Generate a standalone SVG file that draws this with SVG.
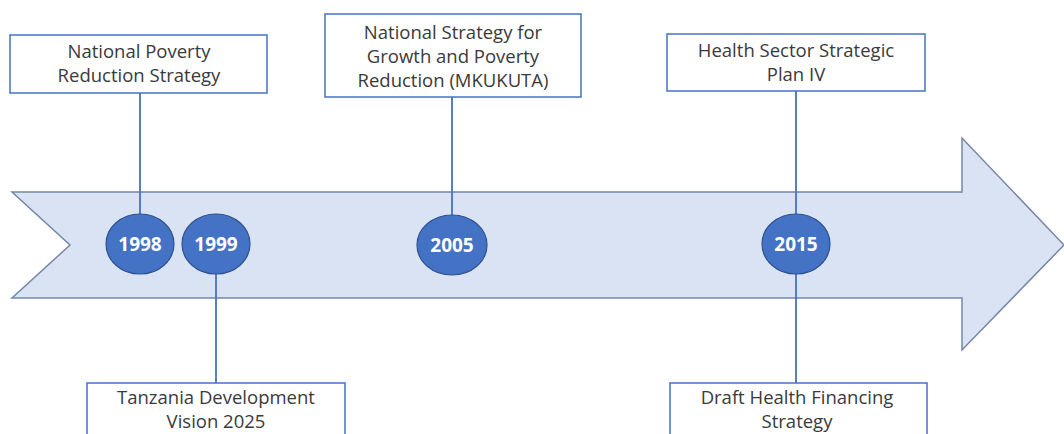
<svg xmlns="http://www.w3.org/2000/svg" width="1064" height="434" viewBox="0 0 1064 434">
<style>
.box{fill:#ffffff;stroke:#4472C4;stroke-width:1.5}
.lbl{font-family:"Open Sans","Liberation Sans",sans-serif;font-size:18.5px;fill:#3a3a3a;text-anchor:middle}
.yr{font-family:"Open Sans","Liberation Sans",sans-serif;font-size:19px;font-weight:bold;fill:#ffffff;text-anchor:middle}
.dot{fill:#4472C4;stroke:#2F528F;stroke-width:1.2}
.con{stroke:#4472C4;stroke-width:1.8;fill:none}
</style>
<rect width="1064" height="434" fill="#ffffff"/>
<g id="arrow">
<polygon points="12,192 962,192 962,138 1064,245 962,350 962,298 12,298 70,245" fill="#DAE3F3" stroke="#7586A8" stroke-width="1.5"/>
</g>
<g id="connectors">
<line class="con" x1="140" y1="93" x2="140" y2="214"/>
<line class="con" x1="216" y1="274" x2="216" y2="383"/>
<line class="con" x1="452" y1="97" x2="452" y2="215"/>
<line class="con" x1="796" y1="91" x2="796" y2="214"/>
<line class="con" x1="796" y1="274" x2="796" y2="383"/>
</g>
<g id="box-npr">
<rect class="box" x="10" y="35" width="257" height="58"/>
<text class="lbl" x="139" y="58">National Poverty</text>
<text class="lbl" x="139" y="82">Reduction Strategy</text>
</g>
<g id="box-mkukuta">
<rect class="box" x="325" y="14" width="256" height="83"/>
<text class="lbl" x="453" y="39">National Strategy for</text>
<text class="lbl" x="453" y="63">Growth and Poverty</text>
<text class="lbl" x="453" y="87">Reduction (MKUKUTA)</text>
</g>
<g id="box-hssp">
<rect class="box" x="667" y="34" width="258" height="57"/>
<text class="lbl" x="796" y="57">Health Sector Strategic</text>
<text class="lbl" x="796" y="81">Plan IV</text>
</g>
<g id="box-tdv">
<rect class="box" x="87" y="383" width="258" height="60"/>
<text class="lbl" x="216" y="404">Tanzania Development</text>
<text class="lbl" x="216" y="428">Vision 2025</text>
</g>
<g id="box-dhfs">
<rect class="box" x="670" y="383" width="257" height="60"/>
<text class="lbl" x="797" y="404">Draft Health Financing</text>
<text class="lbl" x="797" y="428">Strategy</text>
</g>
<g id="y1998">
<ellipse class="dot" cx="140" cy="244" rx="34" ry="30"/>
<text class="yr" x="140" y="251">1998</text>
</g>
<g id="y1999">
<ellipse class="dot" cx="216" cy="244" rx="34" ry="30"/>
<text class="yr" x="216" y="251">1999</text>
</g>
<g id="y2005">
<ellipse class="dot" cx="452" cy="245" rx="35" ry="30"/>
<text class="yr" x="452" y="252">2005</text>
</g>
<g id="y2015">
<ellipse class="dot" cx="796" cy="244" rx="34" ry="30"/>
<text class="yr" x="796" y="251">2015</text>
</g>
</svg>
